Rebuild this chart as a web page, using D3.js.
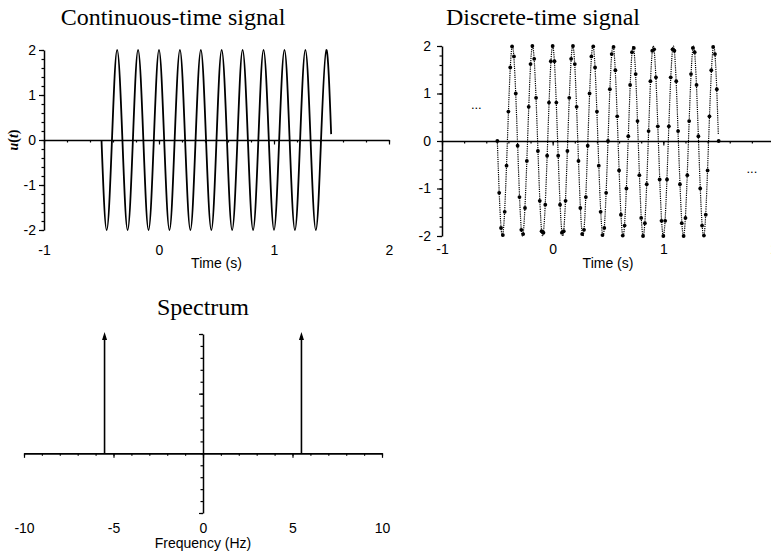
<!DOCTYPE html>
<html><head><meta charset="utf-8">
<script src="https://cdn.jsdelivr.net/npm/d3@7"></script>
<style>
body{margin:0;background:#fff}
svg{display:block}
</style></head><body>
<svg id="c" width="771" height="557"></svg>
<script>
// ---------- data ----------
// continuous-time signal: zero crossings and extrema
const contTime = [-0.5,-0.455,-0.409,-0.364,-0.318,-0.273,-0.227,-0.182,-0.136,-0.091,-0.045,0,
  0.045,0.091,0.136,0.182,0.227,0.273,0.318,0.364,0.409,0.455,0.5,0.545,0.591,0.636,0.682,0.727,
  0.773,0.818,0.864,0.909,0.955,1.0,1.045,1.091,1.136,1.182,1.227,1.273,1.318,1.364,1.409,1.455,1.497];
const contValue = [0,-2,0,2,0,-2,0,2,0,-2,0,2,0,-2,0,2,0,-2,0,2,0,-2,0,2,0,-2,0,2,0,-2,0,2,0,-2,0,2,
  0,-2,0,2,0,-2,0,2,0.13];
// discrete-time samples (60 samples/s starting at t = -0.5)
const discStart = -0.5;
const discRate = 60;
const discValue = [0,-1.09,-1.83,-1.98,-1.49,-0.52,0.62,1.55,1.99,1.78,1.00,-0.10,-1.18,-1.87,-1.96,-1.41,
  -0.42,0.72,1.62,2.00,1.73,0.91,-0.21,-1.26,-1.90,-1.93,-1.34,-0.31,0.81,1.68,2.00,1.68,0.81,-0.31,
  -1.34,-1.93,-1.90,-1.26,-0.21,0.91,1.73,2.00,1.62,0.72,-0.42,-1.41,-1.96,-1.87,-1.18,-0.10,1.00,
  1.78,1.99,1.55,0.62,-0.52,-1.49,-1.98,-1.83,-1.09,0,1.09,1.83,1.98,1.49,0.52,-0.62,-1.55,-1.99,
  -1.78,-1.00,0.10,1.18,1.87,1.96,1.41,0.42,-0.72,-1.62,-2.00,-1.73,-0.91,0.21,1.26,1.90,1.93,1.34,
  0.31,-0.81,-1.68,-2.00,-1.68,-0.81,0.31,1.34,1.93,1.90,1.26,0.21,-0.91,-1.73,-2.00,-1.62,-0.72,
  0.42,1.41,1.96,1.87,1.18,0.10,-1.00,-1.78,-1.99,-1.55,-0.62,0.52,1.49,1.98,1.83,1.09,0];
// spectrum impulses
const specFreq = [-5.5, 5.5];
const specAmp = [1, 1];
// tick labels
const timeTicks = [-1, 0, 1, 2];
const signalTicks = [-2, -1, 0, 1, 2];
const freqTicks = [-10, -5, 0, 5, 10];
const titles = ["Continuous-time signal", "Discrete-time signal", "Spectrum"];

// ---------- drawing ----------
const svg = d3.select("#c");
const SANS = '"Liberation Sans", Arial, Helvetica, sans-serif';
const SERIF = '"Liberation Serif", "Times New Roman", serif';

function styleAxis(s, width) {
  s.select(".domain").attr("stroke", "#000").attr("stroke-width", width || 1.5);
  s.selectAll(".tick line").attr("stroke", "#000").attr("stroke-width", 1.2);
  s.attr("font-family", SANS).attr("font-size", 14);
  s.selectAll(".tick text").attr("fill", "#000");
}

function timePanel(x, y, labelTop, yPad, titleX, title, axisTitleY) {
  const g = svg.append("g");
  g.append("g").attr("transform", `translate(0,${y(0)})`)
    .call(d3.axisBottom(x).tickValues(d3.range(-1, 2.001, 0.2)).tickSize(2.5).tickSizeOuter(0).tickFormat(""))
    .call(s => styleAxis(s, 1.7));
  g.append("g").attr("transform", `translate(0,${y(0)})`)
    .call(d3.axisBottom(x).tickValues(timeTicks).tickSize(4.5).tickFormat(""))
    .call(s => { styleAxis(s); s.select(".domain").remove(); });
  g.append("g").attr("transform", `translate(0,${labelTop})`)
    .call(d3.axisBottom(x).tickValues(timeTicks).tickSize(0).tickPadding(0).tickFormat(d => String(d)))
    .call(s => { styleAxis(s); s.select(".domain").remove(); });
  g.append("g").attr("transform", `translate(${x(-1)},0)`)
    .call(d3.axisLeft(y).tickValues(d3.range(-2, 2.001, 0.2)).tickSize(2.5).tickSizeOuter(0).tickFormat(""))
    .call(s => styleAxis(s, 1.5));
  g.append("g").attr("transform", `translate(${x(-1)},0)`)
    .call(d3.axisLeft(y).tickValues(signalTicks).tickSize(5).tickPadding(yPad).tickFormat(d => String(d)))
    .call(s => { styleAxis(s); s.select(".domain").remove(); });
  g.append("text").attr("x", titleX).attr("y", 25).attr("text-anchor", "middle")
    .attr("font-family", SERIF).attr("font-size", 24).text(title);
  g.append("text").attr("x", (x.range()[0] + x.range()[1]) / 2).attr("y", axisTitleY)
    .attr("text-anchor", "middle").attr("font-family", SANS).attr("font-size", 14).text("Time (s)");
  return g;
}

// ---- continuous
const x1 = d3.scaleLinear().domain([-1, 2]).range([44, 389]);
const y1 = d3.scaleLinear().domain([-2, 2]).range([230, 50]);
const g1 = timePanel(x1, y1, 245, 3, 173, titles[0], 268);
const contPts = contTime.map((t, i) => [t, contValue[i]]);
g1.append("path").datum(contPts)
  .attr("fill", "none").attr("stroke", "#000").attr("stroke-width", 1.8)
  .attr("d", d3.line().x(d => x1(d[0])).y(d => y1(d[1])).curve(d3.curveNatural));
g1.append("text").attr("transform", `translate(18,${y1(0)}) rotate(-90)`)
  .attr("text-anchor", "middle").attr("font-family", SERIF).attr("font-size", 14)
  .attr("font-weight", "bold")
  .call(t => {
    t.append("tspan").attr("font-style", "italic").text("u");
    t.append("tspan").text("(");
    t.append("tspan").attr("font-style", "italic").text("t");
    t.append("tspan").text(")");
  });

// ---- discrete
const x2 = d3.scaleLinear().domain([-1, 2]).range([442, 774]);
const y2 = d3.scaleLinear().domain([-2, 2]).range([236, 46]);
const g2 = timePanel(x2, y2, 244, 6, 543, titles[1], 268);
g2.append("path").datum(contPts)
  .attr("fill", "none").attr("stroke", "#000").attr("stroke-width", 1.2)
  .attr("stroke-dasharray", "1.2,1")
  .attr("d", d3.line().x(d => x2(d[0])).y(d => y2(d[1])).curve(d3.curveNatural));
g2.selectAll("circle.s").data(discValue).join("circle").attr("class", "s")
  .attr("cx", (d, i) => x2(discStart + i / discRate)).attr("cy", d => y2(d))
  .attr("r", 1.9).attr("fill", "#000");
g2.append("text").attr("x", x2(-0.69)).attr("y", y2(0.67)).attr("text-anchor", "middle")
  .attr("font-family", SANS).attr("font-size", 13).text("...");
g2.append("text").attr("x", x2(1.8)).attr("y", y2(-0.67)).attr("text-anchor", "middle")
  .attr("font-family", SANS).attr("font-size", 13).text("...");

// ---- spectrum
const x3 = d3.scaleLinear().domain([-10, 10]).range([24, 382]);
const y3 = d3.scaleLinear().domain([-0.5, 1]).range([513, 334]);
const g3 = svg.append("g");
g3.append("g").attr("transform", `translate(0,${y3(0)})`)
  .call(d3.axisBottom(x3).tickValues(d3.range(-10, 10.001, 1)).tickSize(2.5).tickSizeOuter(0).tickFormat(""))
  .call(s => styleAxis(s, 1.7));
g3.append("g").attr("transform", `translate(0,${y3(0)})`)
  .call(d3.axisBottom(x3).tickValues(freqTicks).tickSize(4.5).tickFormat(""))
  .call(s => { styleAxis(s); s.select(".domain").remove(); });
g3.append("g").attr("transform", `translate(0,523)`)
  .call(d3.axisBottom(x3).tickValues(freqTicks).tickSize(0).tickPadding(0).tickFormat(d => String(d)))
  .call(s => { styleAxis(s); s.select(".domain").remove(); });
g3.append("g").attr("transform", `translate(${x3(0)},0)`)
  .call(d3.axisLeft(y3).tickValues(d3.range(-0.5, 1.001, 0.1)).tickSize(2.5).tickSizeOuter(0).tickFormat(""))
  .call(s => styleAxis(s, 1.5));
g3.append("g").attr("transform", `translate(${x3(0)},0)`)
  .call(d3.axisLeft(y3).tickValues([-0.5, 0.5, 1]).tickSize(4).tickFormat(""))
  .call(s => { styleAxis(s); s.select(".domain").remove(); });
g3.selectAll("line.imp").data(specFreq).join("line").attr("class", "imp")
  .attr("x1", d => x3(d)).attr("x2", d => x3(d))
  .attr("y1", y3(0)).attr("y2", (d, i) => y3(specAmp[i]) + 2)
  .attr("stroke", "#000").attr("stroke-width", 1.6);
g3.selectAll("path.head").data(specFreq).join("path").attr("class", "head")
  .attr("d", (d, i) => { const cx = x3(d), cy = y3(specAmp[i]) - 2; return `M${cx - 2.5},${cy + 8}L${cx},${cy}L${cx + 2.5},${cy + 8}Z`; })
  .attr("fill", "#000");
g3.append("text").attr("x", x3(0)).attr("y", 315).attr("text-anchor", "middle")
  .attr("font-family", SERIF).attr("font-size", 24).text(titles[2]);
g3.append("text").attr("x", x3(0)).attr("y", 548).attr("text-anchor", "middle")
  .attr("font-family", SANS).attr("font-size", 14).text("Frequency (Hz)");
</script></body></html>
